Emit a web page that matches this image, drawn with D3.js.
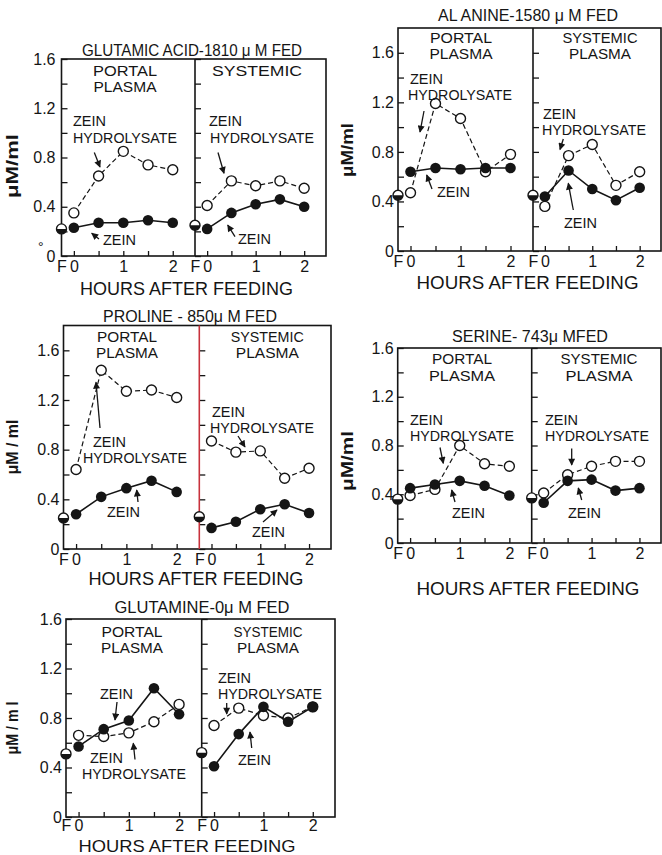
<!DOCTYPE html>
<html>
<head>
<meta charset="utf-8">
<script src="https://cdn.jsdelivr.net/npm/d3@7"></script>
<style>
  html, body { margin: 0; padding: 0; background: #fff; }
  svg text { font-family: "Liberation Sans", Arial, sans-serif; fill: #151515; }
</style>
</head>
<body>
<svg id="fig" width="662" height="855"></svg>
<script>
// ---- data -------------------------------------------------------------
const hours = [0, 0.5, 1, 1.5, 2];

const panelTitles = [
  "GLUTAMIC ACID-1810 \u03bc M FED",
  "AL ANINE-1580 \u03bc M FED",
  "PROLINE - 850\u03bc M FED",
  "SERINE- 743\u03bc MFED",
  "GLUTAMINE-0\u03bc M FED"
];

// fasting level (F), drawn on the left edge of each sub-panel, μM/ml
const fastingPortal   = [0.22, 0.45, 0.25, 0.36, 0.51];
const fastingSystemic = [0.25, 0.45, 0.26, 0.37, 0.52];

// intact zein (filled circles, solid line)
const zeinPortal = [
  [0.23, 0.27, 0.27, 0.29, 0.27],
  [0.64, 0.67, 0.66, 0.67, 0.67],
  [0.28, 0.42, 0.49, 0.55, 0.46],
  [0.45, 0.48, 0.51, 0.47, 0.39],
  [0.57, 0.71, 0.78, 1.04, 0.83]
];
const zeinSystemic = [
  [0.22, 0.35, 0.42, 0.46, 0.40],
  [0.44, 0.65, 0.50, 0.41, 0.51],
  [0.17, 0.22, 0.32, 0.36, 0.29],
  [0.33, 0.51, 0.52, 0.43, 0.45],
  [0.41, 0.67, 0.89, 0.77, 0.89]
];

// zein hydrolysate (open circles, dashed line)
const hydrolysatePortal = [
  [0.35, 0.65, 0.85, 0.74, 0.70],
  [0.47, 1.19, 1.07, 0.64, 0.78],
  [0.64, 1.44, 1.27, 1.28, 1.22],
  [0.39, 0.44, 0.80, 0.65, 0.63],
  [0.66, 0.65, 0.68, 0.77, 0.91]
];
const hydrolysateSystemic = [
  [0.41, 0.61, 0.57, 0.61, 0.55],
  [0.36, 0.77, 0.86, 0.53, 0.64],
  [0.87, 0.78, 0.79, 0.57, 0.65],
  [0.41, 0.56, 0.63, 0.67, 0.67],
  [0.74, 0.88, 0.82, 0.80, 0.89]
];

const yTickValues = [0, 0.2, 0.4, 0.6, 0.8, 1.0, 1.2, 1.4, 1.6];
const yLabelledTicks = [0, 0.4, 0.8, 1.2, 1.6];
const fastingHour = -0.25;
const xTickValues = [fastingHour, 0, 0.5, 1, 1.5, 2];
const xAxisTitle = "HOURS AFTER FEEDING";
const yAxisTitles = ["\u03bcM/ml", "\u03bcM/ml", "\u03bcM / ml", "\u03bcM/ml", "\u03bcM / m l"];

const portalHeadings   = [["PORTAL", "PLASMA"], ["PORTAL", "PLASMA"], ["PORTAL", "PLASMA"], ["PORTAL", "PLASMA"], ["PORTAL", "PLASMA"]];
const systemicHeadings = [["SYSTEMIC"], ["SYSTEMIC", "PLASMA"], ["SYSTEMIC", "PLASMA"], ["SYSTEMIC", "PLASMA"], ["SYSTEMIC", "PLASMA"]];

// ---- layout -----------------------------------------------------------
// heads: [portal centre dx, systemic centre dx, line-1 dy, line-2 dy]
// headW: heading line widths [portal1, portal2, systemic1, systemic2]
// xTitle: [centre x, baseline, width, font size]
const layout = [
  { left: 61.5,  div: 195,   right: 326, top: 59,    bottom: 256, ymax: 1.6, gap: 6, xPad: 5,
    title: [192, 56, 220],   xTitle: [186.5, 295, 213, 19], yTitle: [12, 166, 64],
    heads: [63.5, 62, 16.5, 33],   headW: [64, 63, 90, 0] },
  { left: 398,   div: 533,   right: 661, top: 28,    bottom: 251, ymax: 1.8, gap: 4, xPad: 5,
    title: [528, 20.5, 180], xTitle: [527.5, 289, 222, 19], yTitle: [347.5, 150, 54],
    heads: [63, 67, 14.8, 31.3],   headW: [62, 63, 75, 62] },
  { left: 63.5,  div: 199.3, right: 331, top: 325.5, bottom: 549, ymax: 1.8, gap: 4, xPad: 5, divider: "#c8323c",
    title: [190, 322, 174],  xTitle: [196, 585, 215, 19],   yTitle: [12, 447, 55],
    heads: [63.5, 68, 16.3, 32.8], headW: [60, 62, 73, 63] },
  { left: 397.7, div: 531.7, right: 661, top: 348,   bottom: 543, ymax: 1.6, gap: 4, xPad: 5,
    title: [530, 341.5, 156], xTitle: [528, 595, 223, 19],  yTitle: [347.5, 461, 60],
    heads: [64.3, 67.3, 16.3, 32.8], headW: [60, 66, 77, 67] },
  { left: 66,    div: 201.7, right: 335, top: 619,   bottom: 817, ymax: 1.6, gap: 4, xPad: 3,
    title: [202, 613, 175],  xTitle: [187, 851.5, 217, 17],   yTitle: [12, 728, 53],
    heads: [66, 66.3, 17.8, 34.3], headW: [61, 62, 69, 62] }
];

// curve labels: sub-panel (0 portal, 1 systemic), offset from sub-panel left / panel top,
// one entry per text line
const notes = [
  [ { sub: 0, lines: [["ZEIN", 11.5, 67], ["HYDROLYSATE", 11.5, 83.5]] },
    { sub: 0, lines: [["ZEIN", 41.5, 186]] },
    { sub: 1, lines: [["ZEIN", 14, 67], ["HYDROLYSATE", 15, 83.5]] },
    { sub: 1, lines: [["ZEIN", 43, 185]] } ],
  [ { sub: 0, lines: [["ZEIN", 12, 55.7], ["HYDROLYSATE", 10, 72.2]] },
    { sub: 0, lines: [["ZEIN", 39, 169]] },
    { sub: 1, lines: [["ZEIN", 10, 90.8], ["HYDROLYSATE", 9, 107.3]] },
    { sub: 1, lines: [["ZEIN", 31, 200]] } ],
  [ { sub: 0, lines: [["ZEIN", 29.5, 121.3], ["HYDROLYSATE", 19.5, 137.8]] },
    { sub: 0, lines: [["ZEIN", 43.5, 191.5]] },
    { sub: 1, lines: [["ZEIN", 12.7, 91.3], ["HYDROLYSATE", 10.7, 107.8]] },
    { sub: 1, lines: [["ZEIN", 52.7, 211.5]] } ],
  [ { sub: 0, lines: [["ZEIN", 12.3, 76.8], ["HYDROLYSATE", 12.3, 93.3]] },
    { sub: 0, lines: [["ZEIN", 54.3, 170]] },
    { sub: 1, lines: [["ZEIN", 13.3, 76.8], ["HYDROLYSATE", 13.3, 93.3]] },
    { sub: 1, lines: [["ZEIN", 36.3, 170]] } ],
  [ { sub: 0, lines: [["ZEIN", 34, 80]] },
    { sub: 0, lines: [["ZEIN", 24, 143.8], ["HYDROLYSATE", 16, 160.3]] },
    { sub: 1, lines: [["ZEIN", 16.3, 63.8], ["HYDROLYSATE", 16.3, 80.3]] },
    { sub: 1, lines: [["ZEIN", 36.3, 146]] } ]
];

// pointer arrows: [sub, x1, y1, x2 (head), y2 (head)] relative to sub-panel left / panel top
const arrows = [
  [[0, 32.8, 93.5, 38.5, 108], [0, 37.5, 180, 30.2, 174.3], [1, 23, 93.5, 29, 114.3], [1, 40, 177.7, 32.7, 166]],
  [[0, 26, 83, 22, 104], [0, 34, 161, 28.7, 147], [1, 30.3, 111, 27, 121.5], [1, 40.3, 182, 35.3, 155.3]],
  [[0, 36.5, 102.5, 32.5, 56.8], [0, 74.5, 176.5, 73.2, 164.5], [1, 38.7, 110.5, 45.7, 121.5], [1, 63.7, 196.5, 77.7, 184.5]],
  [[0, 42.3, 99.5, 45.6, 115.3], [0, 57.3, 154, 54, 142], [1, 40, 100.5, 40, 117], [1, 50, 152, 46.6, 140]],
  [[0, 51, 83, 49, 101], [0, 69, 140.5, 67.3, 124.3], [1, 25, 84, 25, 95], [1, 50, 129, 48.3, 113]]
];

// ---- drawing ----------------------------------------------------------
const svg = d3.select("#fig");
const ink = "#151515";
const labelSize = 14.5;

svg.append("defs").append("marker")
  .attr("id", "head")
  .attr("viewBox", "0 0 10 10")
  .attr("refX", 9).attr("refY", 5)
  .attr("markerUnits", "userSpaceOnUse")
  .attr("markerWidth", 8).attr("markerHeight", 7)
  .attr("orient", "auto")
  .append("path").attr("d", "M0,0 L10,5 L0,10 Z").attr("fill", ink);

const fmt = d => d === 0 ? "0" : d3.format(".1f")(d);
const isLabelled = d => yLabelledTicks.some(v => Math.abs(v - d) < 1e-9);

layout.forEach((p, i) => {
  const g = svg.append("g");
  const y = d3.scaleLinear().domain([0, p.ymax]).range([p.bottom, p.top]);
  const subs = [
    { x: d3.scaleLinear().domain([fastingHour, 2.45]).range([p.left, p.div]),
      zein: zeinPortal[i], hyd: hydrolysatePortal[i], fast: fastingPortal[i],
      heads: portalHeadings[i], hx: p.heads[0], hw: p.headW.slice(0, 2) },
    { x: d3.scaleLinear().domain([fastingHour, 2.45]).range([p.div, p.right]),
      zein: zeinSystemic[i], hyd: hydrolysateSystemic[i], fast: fastingSystemic[i],
      heads: systemicHeadings[i], hx: p.heads[1], hw: p.headW.slice(2, 4) }
  ];

  // title
  g.append("text")
    .attr("x", p.title[0]).attr("y", p.title[1])
    .attr("text-anchor", "middle").attr("font-size", 16)
    .attr("textLength", p.title[2]).attr("lengthAdjust", "spacingAndGlyphs")
    .text(panelTitles[i]);

  // frame
  g.append("rect")
    .attr("x", p.left).attr("y", p.top)
    .attr("width", p.right - p.left).attr("height", p.bottom - p.top)
    .attr("fill", "none").attr("stroke", ink).attr("stroke-width", 1.6);

  subs.forEach((s, k) => {
    const x0 = s.x.range()[0];

    // y ticks (labels on the portal axis only)
    const ya = g.append("g")
      .attr("transform", `translate(${x0},0)`)
      .call(d3.axisLeft(y).tickValues(yTickValues).tickSize(-6).tickSizeOuter(0)
        .tickPadding(p.gap).tickFormat(d => (k === 0 && isLabelled(d)) ? fmt(d) : ""));
    ya.select(".domain").remove();
    ya.attr("font-size", 16);
    ya.selectAll(".tick line").attr("stroke", ink).attr("stroke-width", 1.3);

    // x ticks
    const xa = g.append("g")
      .attr("transform", `translate(0,${p.bottom})`)
      .call(d3.axisBottom(s.x).tickValues(xTickValues).tickSize(-5).tickSizeOuter(0).tickPadding(p.xPad)
        .tickFormat(d => d === fastingHour ? "F" : (Number.isInteger(d) ? String(d) : "")));
    xa.select(".domain").remove();
    xa.attr("font-size", 16);
    xa.selectAll(".tick line").attr("stroke", ink).attr("stroke-width", 1.3)
      .filter(d => d === fastingHour).remove();

    // divider between portal and systemic
    if (k === 1) {
      g.append("line")
        .attr("x1", x0).attr("x2", x0).attr("y1", p.top).attr("y2", p.bottom)
        .attr("stroke", p.divider || ink).attr("stroke-width", 1.6);
    }

    // heading (one text, one tspan per line)
    const ht = g.append("text").attr("text-anchor", "middle").attr("font-size", labelSize);
    s.heads.forEach((h, j) => {
      ht.append("tspan")
        .attr("x", x0 + s.hx).attr("y", p.top + p.heads[2 + j])
        .attr("textLength", s.hw[j]).attr("lengthAdjust", "spacingAndGlyphs")
        .text(h);
    });

    const line = d3.line().x((d, j) => s.x(hours[j])).y(d => y(d));

    // hydrolysate: dashed line, open circles
    g.append("path").attr("d", line(s.hyd))
      .attr("fill", "none").attr("stroke", ink).attr("stroke-width", 1.2)
      .attr("stroke-dasharray", "5,3");
    // zein: solid line, filled circles
    g.append("path").attr("d", line(s.zein))
      .attr("fill", "none").attr("stroke", ink).attr("stroke-width", 1.6);

    g.selectAll(null).data(s.hyd).join("circle")
      .attr("cx", (d, j) => s.x(hours[j])).attr("cy", d => y(d)).attr("r", 5)
      .attr("fill", "#fff").attr("stroke", ink).attr("stroke-width", 1.4);
    g.selectAll(null).data(s.zein).join("circle")
      .attr("cx", (d, j) => s.x(hours[j])).attr("cy", d => y(d)).attr("r", 5.3)
      .attr("fill", ink);

    // fasting value: half-filled circle on the axis
    const fg = g.append("g").attr("transform", `translate(${s.x(fastingHour)},${y(s.fast)})`);
    fg.append("circle").attr("r", 5).attr("fill", "#fff").attr("stroke", ink).attr("stroke-width", 1.4);
    fg.append("path").attr("d", "M-5,0 A5,5 0 0 0 5,0 Z").attr("fill", ink);
  });

  // curve labels
  notes[i].forEach(n => {
    const x0 = subs[n.sub].x.range()[0];
    const t = g.append("text").attr("font-size", labelSize);
    n.lines.forEach(([txt, dx, dy]) => {
      const ts = t.append("tspan").attr("x", x0 + dx).attr("y", p.top + dy).text(txt);
      if (txt === "ZEIN") ts.attr("textLength", 33).attr("lengthAdjust", "spacingAndGlyphs");
      else ts.attr("textLength", 104).attr("lengthAdjust", "spacingAndGlyphs");
    });
  });

  arrows[i].forEach(a => {
    const x0 = subs[a[0]].x.range()[0];
    g.append("line")
      .attr("x1", x0 + a[1]).attr("y1", p.top + a[2])
      .attr("x2", x0 + a[3]).attr("y2", p.top + a[4])
      .attr("stroke", ink).attr("stroke-width", 1.3)
      .attr("marker-end", "url(#head)");
  });

  // axis titles
  g.append("text")
    .attr("x", p.xTitle[0]).attr("y", p.xTitle[1])
    .attr("text-anchor", "middle").attr("font-size", p.xTitle[3])
    .attr("textLength", p.xTitle[2]).attr("lengthAdjust", "spacingAndGlyphs")
    .text(xAxisTitle);

  g.append("text")
    .attr("transform", `translate(${p.yTitle[0]},${p.yTitle[1]}) rotate(-90)`)
    .attr("text-anchor", "middle").attr("dominant-baseline", "central")
    .attr("font-size", 17).attr("font-weight", "bold")
    .attr("textLength", p.yTitle[2]).attr("lengthAdjust", "spacingAndGlyphs")
    .text(yAxisTitles[i]);
});

// stray degree mark beside the first panel's zero
svg.append("text").attr("x", 38).attr("y", 252).attr("font-size", 14).text("\u00b0");
</script>
</body>
</html>
